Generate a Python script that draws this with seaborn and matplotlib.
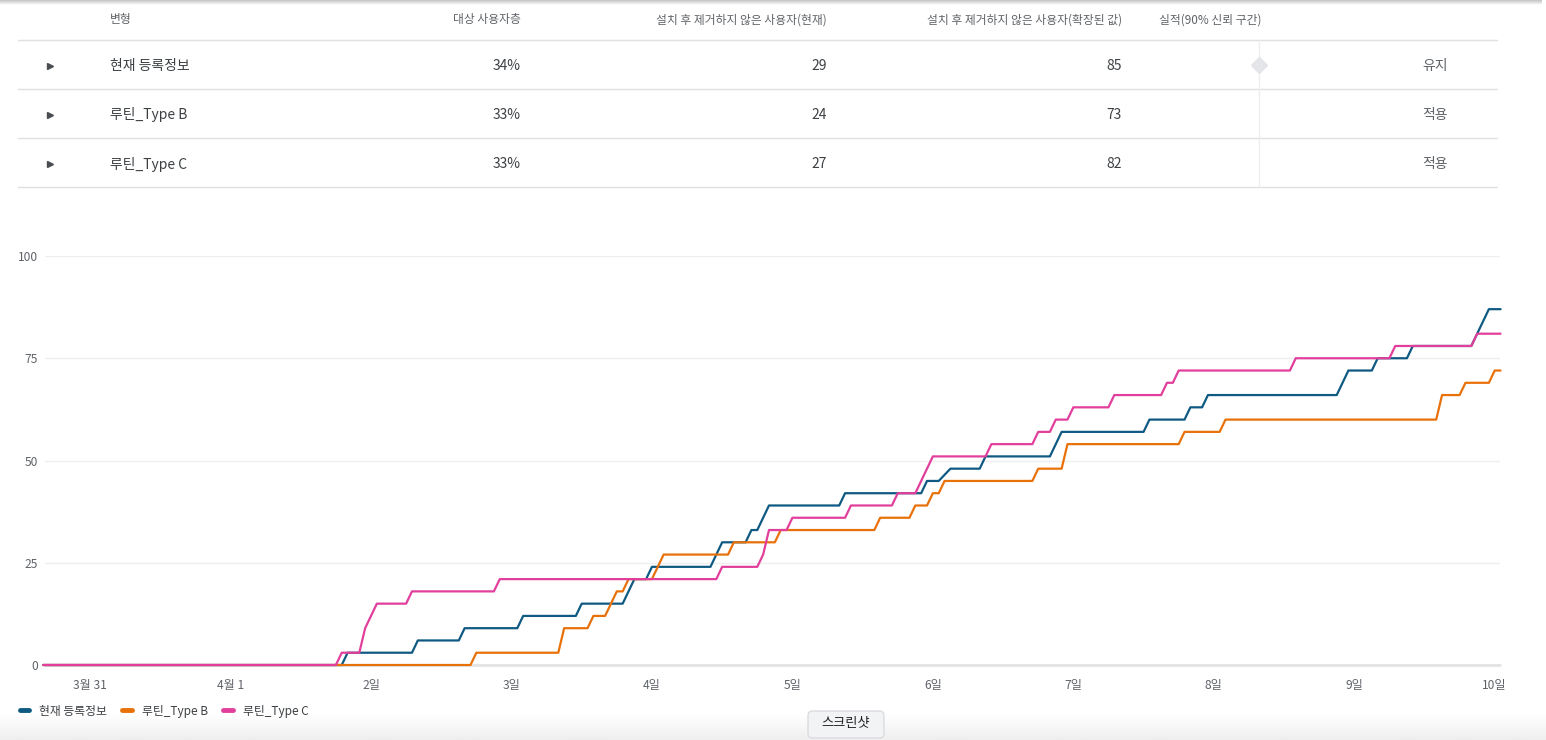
import numpy as np
import pandas as pd
import matplotlib
matplotlib.use('Agg')
import matplotlib.pyplot as plt
import matplotlib.patches as mpatches
from matplotlib.lines import Line2D
import seaborn as sns

# table data
variants = ['현재 등록정보', '루틴_Type B', '루틴_Type C']
audience = ['34%', '33%', '33%']
installed_now = [29, 24, 27]
installed_scaled = [85, 73, 82]
actions = ['유지', '적용', '적용']
headers = ['변형', '대상 사용자층', '설치 후 제거하지 않은 사용자(현재)',
           '설치 후 제거하지 않은 사용자(확장된 값)', '실적(90% 신뢰 구간)']

# chart data: hours since 3/31 00:00, cumulative users
hours_a = [-8, 43, 44, 55, 56, 63, 64, 73, 74, 83, 84, 91, 93, 95, 96, 106, 108,
           112, 113, 114, 116, 128, 129, 142, 143, 145, 147, 152, 153, 164, 166,
           180, 181, 187, 188, 190, 191, 213, 215, 219, 220, 225, 226, 236, 239, 241]
users_a = [0, 0, 3, 3, 6, 6, 9, 9, 12, 12, 15, 15, 21, 21, 24, 24, 30,
           30, 33, 33, 39, 39, 42, 42, 45, 45, 48, 48, 51, 51, 57,
           57, 60, 60, 63, 63, 66, 66, 72, 72, 75, 75, 78, 78, 87, 87]

hours_b = [-8, 65, 66, 80, 81, 85, 86, 88, 90, 91, 92, 96, 98, 109, 110, 117, 118,
           134, 135, 140, 141, 143, 144, 145, 146, 161, 162, 166, 167, 186, 187,
           193, 194, 230, 231, 234, 235, 239, 240, 241]
users_b = [0, 0, 3, 3, 9, 9, 12, 12, 18, 18, 21, 21, 27, 27, 30, 30, 33,
           33, 36, 36, 39, 39, 42, 42, 45, 45, 48, 48, 54, 54, 57,
           57, 60, 60, 66, 66, 69, 69, 72, 72]

hours_c = [-8, 42, 43, 46, 47, 49, 54, 55, 69, 70, 107, 108, 114, 115, 116, 119, 120,
           129, 130, 137, 138, 141, 144, 153, 154, 161, 162, 164, 165, 167, 168,
           174, 175, 183, 184, 185, 186, 205, 206, 222, 223, 236, 237, 241]
users_c = [0, 0, 3, 3, 9, 15, 15, 18, 18, 21, 21, 24, 24, 27, 33, 33, 36,
           36, 39, 39, 42, 42, 51, 51, 54, 54, 57, 57, 60, 60, 63,
           63, 66, 66, 69, 69, 72, 72, 75, 75, 78, 78, 81, 81]

day_ticks = [0, 24, 48, 72, 96, 120, 144, 168, 192, 216, 240]
day_labels = ['3월 31', '4월 1', '2일', '3일', '4일', '5일', '6일', '7일', '8일', '9일', '10일']
y_ticks = [0, 25, 50, 75, 100]
colors = ['#0f5a82', '#e8710a', '#e23f9c']

df = pd.concat([
    pd.DataFrame({'hour': hours_a, 'users': users_a, 'variant': variants[0]}),
    pd.DataFrame({'hour': hours_b, 'users': users_b, 'variant': variants[1]}),
    pd.DataFrame({'hour': hours_c, 'users': users_c, 'variant': variants[2]}),
])

sns.set_style('white')
plt.rcParams['font.family'] = ['Noto Sans CJK KR', 'DejaVu Sans']

W, H = 1546, 740
fig = plt.figure(figsize=(W / 100, H / 100), dpi=100)


def fx(px):
    return px / W


def fy(py):
    return 1 - py / H


# top shadow
sh = fig.add_axes([0, fy(5), 0.997, 5 / H])
sh.imshow(np.linspace(0, 1, 20).reshape(-1, 1), cmap=sns.blend_palette(['#c4c4c4', '#ffffff'], as_cmap=True),
          aspect='auto', extent=[0, 1, 0, 1])
sh.axis('off')

# bottom gradient bar
bb = fig.add_axes([0, 0, 1, 26 / H])
bb.imshow(np.linspace(0, 1, 20).reshape(-1, 1), cmap=sns.blend_palette(['#ffffff', '#efefef'], as_cmap=True),
          aspect='auto', extent=[0, 1, 0, 1])
bb.axis('off')

# table
hdr_col = '#5f6368'
txt_col = '#3c4043'
fig.text(fx(110), fy(20), headers[0], ha='left', va='center', fontsize=8.5, color=hdr_col)
fig.text(fx(521), fy(20), headers[1], ha='right', va='center', fontsize=8.5, color=hdr_col)
fig.text(fx(827), fy(20), headers[2], ha='right', va='center', fontsize=8.5, color=hdr_col)
fig.text(fx(1122), fy(20), headers[3], ha='right', va='center', fontsize=8.5, color=hdr_col)
fig.text(fx(1159), fy(20), headers[4], ha='left', va='center', fontsize=8.5, color=hdr_col)

for yy in [40, 89, 138, 187]:
    fig.add_artist(Line2D([fx(18), fx(1497)], [fy(yy), fy(yy)], color='#e0e0e0', lw=1))
fig.add_artist(Line2D([fx(1259), fx(1259)], [fy(40), fy(187)], color='#eceef0', lw=1))
fig.add_artist(Line2D([fx(1259)], [fy(65)], marker='D', markersize=8, color='#e3e5e8', lw=0))

for i, name in enumerate(variants):
    ry = fy(66 + 49 * i)
    fig.add_artist(Line2D([fx(50)], [ry], marker='>', markersize=4.5, color='#4a4d51', lw=0))
    fig.text(fx(110), ry, name, ha='left', va='center', fontsize=10, color=txt_col)
    fig.text(fx(521), ry, audience[i], ha='right', va='center', fontsize=10, color=txt_col)
    fig.text(fx(827), ry, str(installed_now[i]), ha='right', va='center', fontsize=10, color=txt_col)
    fig.text(fx(1122), ry, str(installed_scaled[i]), ha='right', va='center', fontsize=10, color=txt_col)
    fig.text(fx(1435), ry, actions[i], ha='center', va='center', fontsize=10, color=hdr_col)

# chart
ax = fig.add_axes([fx(45), fy(665), (1500 - 45) / W, (665 - 256) / H])
ax.yaxis.grid(True, color='#efefef', lw=1)
ax.axhline(0, color='#e3e3e3', lw=2, zorder=1)
sns.lineplot(data=df, x='hour', y='users', hue='variant', hue_order=variants,
             palette=colors, estimator=None, sort=False, linewidth=1.6,
             legend=False, ax=ax, zorder=3)
for ln in ax.lines:
    ln.set_clip_on(False)
ax.set_xlim(-7.7, 240.9)
ax.set_ylim(0, 100)
sns.despine(ax=ax, left=True, bottom=True, top=True, right=True)
ax.set_xticks(day_ticks)
ax.set_xticklabels(day_labels)
ax.set_yticks(y_ticks)
ax.tick_params(axis='x', length=4, width=1, color='#e3e3e3', pad=6, labelsize=8.7, labelcolor=hdr_col)
ax.tick_params(axis='y', length=0, pad=5, labelsize=8.7, labelcolor=hdr_col)
ax.set_xlabel('')
ax.set_ylabel('')

# legend
handles = [Line2D([0], [0], color=c, lw=3.5, solid_capstyle='round') for c in colors]
fig.legend(handles, variants, loc='center left', bbox_to_anchor=(fx(15), fy(711)), ncol=3,
           frameon=False, fontsize=8.5, handlelength=0.8, handletextpad=0.85,
           columnspacing=1.3, labelcolor=txt_col, borderaxespad=0)

# screenshot button
btn = mpatches.FancyBboxPatch((fx(808), fy(738)), fx(76), 27 / H,
                              boxstyle='round,pad=0,rounding_size=0.003',
                              mutation_aspect=W / H, transform=fig.transFigure,
                              facecolor='#f1f3f4', edgecolor='#dadce0', lw=1)
fig.add_artist(btn)
fig.text(fx(846), fy(724), '스크린샷', ha='center', va='center', fontsize=9.5, color='#202124')

fig.savefig('out.png', dpi=100)
